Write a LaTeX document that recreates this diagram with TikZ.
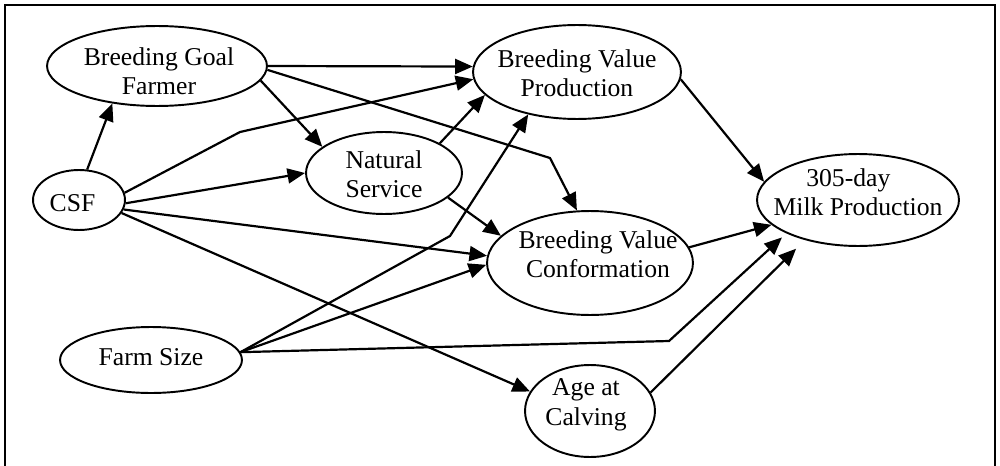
\documentclass[tikz,border=0pt]{standalone}
\usepackage{fontspec}
\setmainfont{Liberation Serif}
\usetikzlibrary{arrows.meta,shapes.geometric}
% one drawing unit
\newdimen\pxu \pxu=0.569055pt
% centred label text: #1 horizontal offset, #2 depth of the last baseline below the centre, #3 lines
\newcommand\etext[3]{\makebox[0pt]{\kern#1\pxu\kern#1\pxu\raisebox{-#2\pxu}[0pt][0pt]{\begin{tabular}[b]{@{}c@{}}#3\end{tabular}}}}
\tikzset{
  var/.style={ellipse, draw, line width=1.1pt, inner sep=0pt,
    font=\fontsize{14.6}{17.07}\selectfont},
  erad/.style 2 args={minimum width=#1*0.04cm, minimum height=#2*0.04cm},
  link/.style={line width=1.25pt, line join=miter, -{Triangle[length=10pt,width=8.5pt]}},
  frame/.style={line width=1.1pt}
}
\begin{document}
\begin{tikzpicture}[x=0.02cm, y=-0.02cm]
\useasboundingbox (0,0) rectangle (1000,466);
\draw[frame] (5,466) -- (5,5) -- (995,5) -- (995,466);

% variables
\node[var, erad={110}{40}] (bgf)  at (157,66)  {\etext{2}{29}{Breeding Goal\\Farmer}};
\node[var, erad={46}{30}]  (csf)  at (79,200)  {\etext{-6.5}{12}{CSF}};
\node[var, erad={78}{41}]  (ns)   at (384,173) {\etext{0}{25}{Natural\\Service}};
\node[var, erad={104}{47}] (bvp)  at (577,72)  {\etext{0}{25}{Breeding Value\\Production}};
\node[var, erad={103}{52}] (bvc)  at (590,263) {\etext{8}{15}{Breeding Value\\Conformation}};
\node[var, erad={91}{33}]  (fs)   at (151,360) {\etext{0}{5}{Farm Size}};
\node[var, erad={65}{46}]  (age)  at (590,411) {\etext{-4}{14}{Age at\\Calving}};
\node[var, erad={101}{46}] (milk) at (858,200) {\etext{0}{16}{305-day\hspace*{11pt}\\Milk Production}};

% bend points of the kinked paths
\coordinate (k1) at (550,158);
\coordinate (k2) at (240,132);
\coordinate (k3) at (450,236);
\coordinate (k4) at (669,341);

% paths
\draw[link] (csf.75) -- (bgf.220);
\draw[link] (bgf.0) -- (bvp.177);
\draw[link] (bgf.-8) -- (ns.157);
\draw[link] (bgf.-2) -- (k1) -- (bvc.104);
\draw[link] (csf.9) -- (k2) -- (bvp.184);
\draw[link] (csf.-4) -- (ns.180);
\draw[link] (csf.-12) -- (bvc.176);
\draw[link] (csf.-17) -- (age.162);
\draw[link] (ns.28) -- (bvp.194);
\draw[link] (ns.-21) -- (bvc.163);
\draw[link] (fs.5) -- (k3) -- (bvp.221);
\draw[link] (fs.5) -- (bvc.181);
\draw[link, shorten >=3.4pt] (fs.5) -- (k4) -- (milk.205);
\draw[link, shorten >=7pt] (age.17) -- (milk.217);
\draw[link] (bvc.9) -- (milk.196);
\draw[link] (bvp.-4) -- (milk.169);
\end{tikzpicture}
\end{document}
